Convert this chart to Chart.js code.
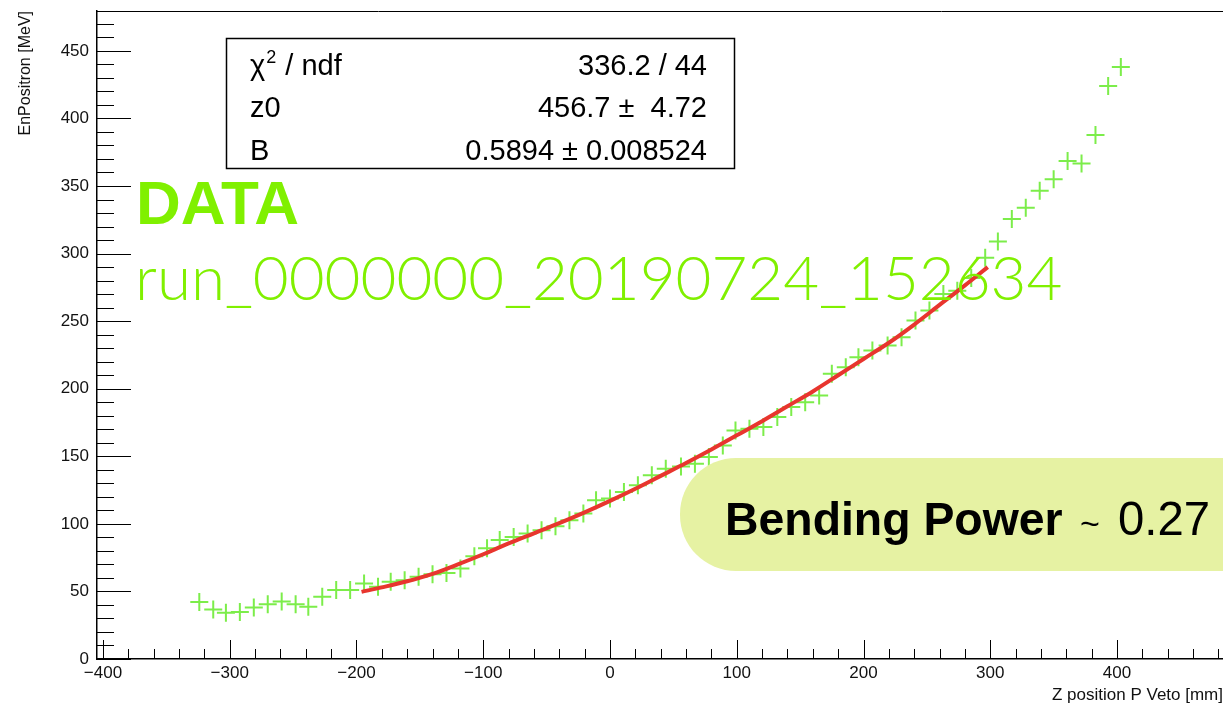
<!DOCTYPE html>
<html>
<head>
<meta charset="utf-8">
<script src="https://cdn.jsdelivr.net/npm/chart.js@4.4.1/dist/chart.umd.min.js"></script>
<style>
  html, body { margin: 0; padding: 0; background: #fff; overflow: hidden; }
  #wrap { width: 1223px; height: 709px; }
</style>
</head>
<body>
<div id="wrap"><canvas id="chart" width="1223" height="709"></canvas></div>
<script>
// measured points (Z position [mm], EnPositron [MeV])
const zPos = [-324, -313, -303, -292, -281, -270, -259, -248, -238, -227, -216, -205,
  -194, -183, -173, -162, -151, -140, -129, -118, -107, -97, -87, -76, -65, -54, -43,
  -32, -21, -11, 0, 11, 22, 33, 44, 56, 67, 78, 89, 99, 110, 121, 132, 143, 154, 165,
  175, 186, 196, 207, 219, 230, 241, 252, 263, 274, 285, 296, 306, 317, 328, 339, 350,
  361, 372, 383, 393, 403];
const enPositron = [42.1, 36.7, 34.2, 34.7, 38.2, 40.6, 42.6, 40.6, 38.6, 46, 51, 51,
  55.9, 53.4, 57.1, 58.3, 60.8, 62.8, 63.7, 67, 76, 82, 88, 90.3, 92.8, 95.3, 98.2,
  102.7, 107.6, 117.4, 118.7, 123.6, 128.5, 135.9, 140.8, 142.5, 144.5, 149.4, 158,
  169, 170.4, 171.6, 179, 186.4, 190, 195, 211, 215.9, 223.3, 228.2, 232, 238, 250.4,
  257.8, 270, 272.5, 282, 297, 309, 325.5, 334, 346.4, 355, 368.5, 366.6, 387.7, 424, 438];

// fit curve as drawn
const fitZ = [-196, -180, -160, -140, -120, -100, -80, -60, -40, -20, 0, 20, 40, 60, 80,
  100, 120, 140, 160, 180, 200, 220, 240, 260, 280, 298];
const fitE = [49.7, 53, 57.5, 63, 70, 77.5, 85.5, 93, 100.5, 108.5, 117, 126, 135.5,
  145, 155, 165.5, 176, 187, 198, 210, 222, 234, 247.5, 262, 276.5, 290];

const xTickLabels = [-400, -300, -200, -100, 0, 100, 200, 300, 400];
const yTickLabels = [0, 50, 100, 150, 200, 250, 300, 350, 400, 450];

const statRows = [
  ["chi2", "336.2 / 44"],
  ["z0", "456.7 \u00b1  4.72"],
  ["B", "0.5894 \u00b1 0.008524"]
];
const runTitle = "DATA";
const runName = "run_0000000_20190724_152634";
const bendLabel = "Bending Power";
const bendValue = "0.27";

const SANS = '"Liberation Sans", Arial, Helvetica, sans-serif';
const LIGHT = 'Lato, Roboto, "Liberation Sans", sans-serif';
const GREEN = "#80f000";

// font size that makes text span the given width
function fitFont(ctx, weight, family, text, width) {
  ctx.font = weight + " 50px " + family;
  const s = 50 * width / ctx.measureText(text).width;
  ctx.font = weight + " " + s.toFixed(1) + "px " + family;
}

const insideTicks = {
  id: "insideTicks",
  afterDatasetsDraw(chart) {
    const { ctx, chartArea, scales } = chart;
    ctx.save();
    ctx.strokeStyle = "#000";
    ctx.lineWidth = 1;
    ctx.beginPath();
    // y ticks every 10, major every 50
    for (let v = 0; v <= 470; v += 10) {
      const y = Math.round(scales.y.getPixelForValue(v)) + 0.5;
      const len = v % 50 === 0 ? 34 : 17;
      ctx.moveTo(chartArea.left, y);
      ctx.lineTo(chartArea.left + len, y);
    }
    // x ticks every 20, major every 100
    for (let v = -400; v <= 480; v += 20) {
      const x = Math.round(scales.x.getPixelForValue(v)) + 0.5;
      const len = v % 100 === 0 ? 19 : 10;
      ctx.moveTo(x, chartArea.bottom);
      ctx.lineTo(x, chartArea.bottom - len);
    }
    ctx.stroke();
    // frame top
    ctx.beginPath();
    ctx.moveTo(chartArea.left, chartArea.top + 0.5);
    ctx.lineTo(chartArea.right, chartArea.top + 0.5);
    ctx.stroke();
    ctx.restore();
  }
};

const overlays = {
  id: "overlays",
  afterDraw(chart) {
    const ctx = chart.ctx;
    ctx.save();

    // stats box
    ctx.fillStyle = "#fff";
    ctx.fillRect(226, 38, 509, 131);
    ctx.strokeStyle = "#000";
    ctx.lineWidth = 1.5;
    ctx.strokeRect(226.5, 38.5, 508, 130);
    ctx.fillStyle = "#000";
    ctx.textBaseline = "alphabetic";
    const rowY = [75, 117, 160];
    statRows.forEach((row, i) => {
      ctx.font = "29px " + SANS;
      ctx.textAlign = "left";
      if (row[0] === "chi2") {
        ctx.fillText("\u03c7", 250, rowY[i]);
        let w = ctx.measureText("\u03c7").width;
        ctx.font = "18px " + SANS;
        ctx.fillText("2", 250 + w + 1, rowY[i] - 12);
        const w2 = ctx.measureText("2").width;
        ctx.font = "29px " + SANS;
        ctx.fillText(" / ndf", 250 + w + w2 + 2, rowY[i]);
      } else {
        ctx.fillText(row[0], 250, rowY[i]);
      }
      ctx.textAlign = "right";
      ctx.fillText(row[1], 707, rowY[i]);
    });

    // run labels
    ctx.fillStyle = GREEN;
    ctx.textAlign = "left";
    ctx.font = "bold 62px " + SANS;
    ctx.fillText(runTitle, 136, 224);
    fitFont(ctx, "300", LIGHT, runName, 928);
    ctx.fillText(runName, 135, 300);

    // bending power box
    ctx.fillStyle = "#e6f2a3";
    ctx.beginPath();
    ctx.roundRect(680, 458, 620, 113, 56);
    ctx.fill();
    ctx.fillStyle = "#000";
    fitFont(ctx, "bold", SANS, bendLabel, 338);
    ctx.fillText(bendLabel, 725, 535);
    ctx.font = "34px " + SANS;
    ctx.fillText("~", 1080, 535);
    fitFont(ctx, "normal", SANS, bendValue, 92);
    ctx.fillText(bendValue, 1118, 535);

    ctx.restore();
  }
};

const fmt = v => (v < 0 ? "\u2212" + Math.abs(v) : String(v));

new Chart(document.getElementById("chart"), {
  type: "scatter",
  data: {
    datasets: [
      {
        label: "fit",
        type: "line",
        data: fitZ.map((z, i) => ({ x: z, y: fitE[i] })),
        borderColor: "#e8352e",
        borderWidth: 4,
        pointRadius: 0,
        fill: false,
        cubicInterpolationMode: "monotone",
        order: 0
      },
      {
        label: "data",
        data: zPos.map((z, i) => ({ x: z, y: enPositron[i] })),
        pointStyle: "cross",
        pointRadius: 9,
        borderColor: "#7ced4a",
        borderWidth: 2,
        order: 1
      }
    ]
  },
  options: {
    responsive: false,
    animation: false,
    events: [],
    layout: { autoPadding: false, padding: { top: 11, right: 0, left: 0, bottom: 0 } },
    plugins: { legend: { display: false }, tooltip: { enabled: false } },
    scales: {
      x: {
        type: "linear",
        min: -404.7,
        max: 483.6,
        afterBuildTicks: s => { s.ticks = xTickLabels.map(v => ({ value: v })); },
        afterFit: s => { s.height = 50; s.paddingLeft = 0; s.paddingRight = 0; },
        grid: { display: false, drawTicks: false },
        border: { display: true, color: "#000", width: 1.5 },
        ticks: {
          padding: 4,
          maxRotation: 0,
          autoSkip: false,
          color: "#111",
          font: { family: SANS, size: 17 },
          callback: v => fmt(v)
        },
        title: {
          display: true,
          text: "Z position P Veto [mm]",
          align: "end",
          color: "#111",
          font: { family: SANS, size: 17 },
          padding: { top: 0, bottom: 3 }
        }
      },
      y: {
        type: "linear",
        min: 0,
        max: 479.5,
        afterBuildTicks: s => { s.ticks = yTickLabels.map(v => ({ value: v })); },
        afterFit: s => { s.width = 97; s.paddingTop = 0; s.paddingBottom = 0; },
        grid: { display: false, drawTicks: false },
        border: { display: true, color: "#000", width: 1.5 },
        ticks: {
          padding: 8,
          autoSkip: false,
          color: "#111",
          font: { family: SANS, size: 17 },
          callback: v => fmt(v)
        },
        title: {
          display: true,
          text: "EnPositron [MeV]",
          align: "end",
          color: "#111",
          font: { family: SANS, size: 16 },
          padding: { top: 16, bottom: 0 }
        }
      }
    }
  },
  plugins: [insideTicks, overlays]
});
</script>
</body>
</html>
